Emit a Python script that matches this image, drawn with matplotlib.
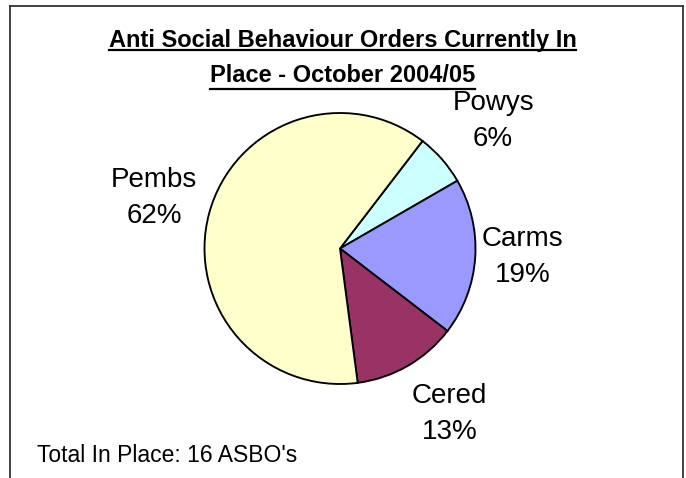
import matplotlib.pyplot as plt
from matplotlib.lines import Line2D

plt.rcParams['font.family'] = ['Liberation Sans', 'DejaVu Sans']

# data
regions = ["Powys", "Carms", "Cered", "Pembs"]
asbos = [1, 3, 2, 10]
pct_labels = [6, 19, 13, 62]   # as printed on the chart
colours = ["#CCFFFF", "#9999FF", "#993366", "#FFFFCC"]
title_lines = ["Anti Social Behaviour Orders Currently In", "Place - October 2004/05"]
footnote = "Total In Place: 16 ASBO's"

W, H = 686, 478
fig = plt.figure(figsize=(W / 100, H / 100), dpi=100)

# outer chart frame (open at the bottom)
def px(x, y):
    return x / W, 1 - y / H

for (x0, y0), (x1, y1) in [((10, 478), (10, 6)), ((10, 6), (683, 6)), ((683, 6), (683, 478))]:
    a, b = px(x0, y0)
    c, d = px(x1, y1)
    fig.add_artist(Line2D([a, c], [b, d], color="#333333", lw=1.3))

# pie axes: centre (340, 248.5), radius 135.5 px
cx, cy, r = 340, 248.5, 135.5
ax = fig.add_axes([(cx - r) / W, (H - cy - r) / H, 2 * r / W, 2 * r / H])
wedges, _ = ax.pie(asbos, colors=colours, startangle=52.5, counterclock=False,
                   wedgeprops=dict(edgecolor="black", linewidth=1.35))
ax.set_xlim(-1, 1)
ax.set_ylim(-1, 1)
ax.set_aspect("equal")
ax.axis("off")

label_pos = [(1.13, 0.94), (1.35, -0.06), (0.81, -1.22), (-1.37, 0.37)]
for name, pct, (lx, ly) in zip(regions, pct_labels, label_pos):
    ax.text(lx, ly, f"{name}\n{pct}%", ha="center", va="center",
            multialignment="center", fontsize=20, linespacing=1.5, clip_on=False)

# title with underline
title_y = [40.5, 75.5]
underline_y = [50, 89]
texts = []
for line, ty in zip(title_lines, title_y):
    t = fig.text(342.5 / W, 1 - ty / H, line, ha="center", va="center",
                 fontsize=17, fontweight="bold")
    texts.append(t)

fig.text(37 / W, 1 - 462 / H, footnote, ha="left", va="baseline", fontsize=16.5)

fig.canvas.draw()
renderer = fig.canvas.get_renderer()
for t, uy in zip(texts, underline_y):
    bb = t.get_window_extent(renderer)
    fig.add_artist(Line2D([bb.x0 / W, bb.x1 / W], [1 - uy / H, 1 - uy / H], color="black", lw=1.6))

fig.savefig("out.png", dpi=100)
